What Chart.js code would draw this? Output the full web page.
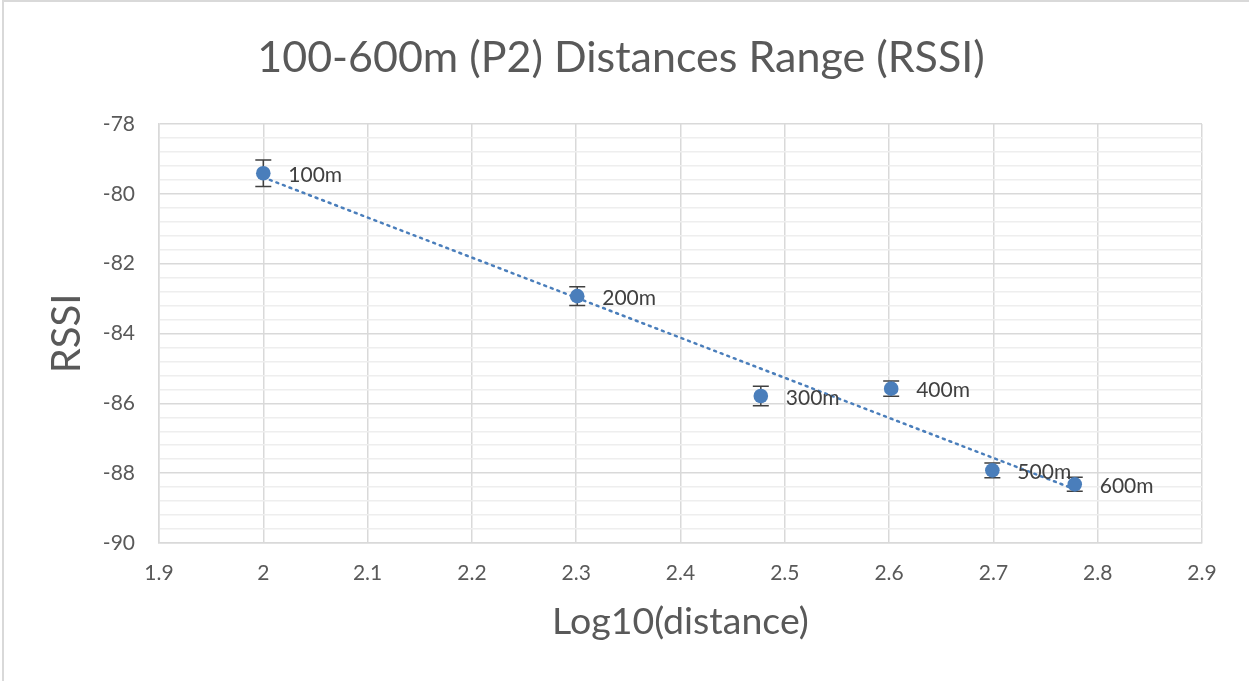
<!DOCTYPE html>
<html lang="en">
<head>
    <meta charset="UTF-8">
    <title>100-600m (P2) Distances Range (RSSI)</title>
    <script src="https://cdn.jsdelivr.net/npm/chart.js"></script>
    <style>
        html, body { margin: 0; padding: 0; background: #fff; }
        #wrap { width: 1249px; height: 681px; position: relative; }
    </style>
</head>
<body>
    <div id="wrap"><canvas id="chart" width="1249" height="681"></canvas></div>
    <script>
        // data
        const labels = ['100m', '200m', '300m', '400m', '500m', '600m'];
        const logDistance = [2, 2.301, 2.477, 2.602, 2.699, 2.778];
        const rssi = [-79.41, -82.93, -85.79, -85.58, -87.92, -88.32];
        const rssiErr = [0.38, 0.27, 0.28, 0.22, 0.21, 0.2];
        // dotted linear trendline ends
        const trendX = [2, 2.778];
        const trendY = [-79.53, -88.46];

        const blue = '#4a7ebb';
        const grey = '#595959';
        const gridCol = '#d9d9d9';
        const fontFam = 'Lato, "Open Sans", sans-serif';

        // error bars + point labels + outer frame
        const extras = {
            id: 'extras',
            afterDatasetsDraw(chart) {
                const ctx = chart.ctx;
                const xs = chart.scales.x, ys = chart.scales.y;
                ctx.save();
                ctx.strokeStyle = '#404040';
                ctx.lineWidth = 1.5;
                for (let i = 0; i < rssi.length; i++) {
                    const px = xs.getPixelForValue(logDistance[i]);
                    const top = ys.getPixelForValue(rssi[i] + rssiErr[i]);
                    const bot = ys.getPixelForValue(rssi[i] - rssiErr[i]);
                    ctx.beginPath();
                    ctx.moveTo(px, top); ctx.lineTo(px, bot);
                    ctx.moveTo(px - 8, top); ctx.lineTo(px + 8, top);
                    ctx.moveTo(px - 8, bot); ctx.lineTo(px + 8, bot);
                    ctx.stroke();
                }
                // points on top of the bars
                const meta = chart.getDatasetMeta(1);
                meta.data.forEach(p => {
                    ctx.beginPath();
                    ctx.fillStyle = blue;
                    ctx.arc(p.x, p.y, 7.3, 0, Math.PI * 2);
                    ctx.fill();
                });
                ctx.fillStyle = '#404040';
                ctx.font = '21px ' + fontFam;
                ctx.textBaseline = 'middle';
                ctx.textAlign = 'left';
                for (let i = 0; i < labels.length; i++) {
                    const px = xs.getPixelForValue(logDistance[i]);
                    const py = ys.getPixelForValue(rssi[i]);
                    ctx.fillText(labels[i], px + 25, py + 2);
                }
                ctx.strokeStyle = gridCol;
                ctx.lineWidth = 2;
                ctx.beginPath();
                ctx.moveTo(3, 681); ctx.lineTo(3, 1); ctx.lineTo(1249, 1);
                ctx.stroke();
                ctx.restore();
            }
        };

        new Chart(document.getElementById('chart'), {
            type: 'scatter',
            data: {
                datasets: [
                    {
                        type: 'line',
                        data: trendX.map((x, i) => ({ x: x, y: trendY[i] })),
                        borderColor: blue,
                        borderWidth: 2.5,
                        borderDash: [2, 5],
                        borderCapStyle: 'round',
                        pointRadius: 0,
                        fill: false
                    },
                    {
                        data: logDistance.map((x, i) => ({ x: x, y: rssi[i] })),
                        backgroundColor: 'rgba(0,0,0,0)',
                        borderColor: 'rgba(0,0,0,0)',
                        pointRadius: 7
                    }
                ]
            },
            options: {
                responsive: false,
                animation: false,
                layout: { padding: { left: 40, right: 47, top: 0, bottom: 0 } },
                plugins: {
                    legend: { display: false },
                    tooltip: { enabled: false },
                    title: {
                        display: true,
                        text: '100-600m (P2) Distances Range (RSSI)',
                        color: grey,
                        font: { family: fontFam, size: 43, weight: 'normal' },
                        padding: { top: 32, bottom: 40.4 }
                    }
                },
                scales: {
                    x: {
                        type: 'linear',
                        min: 1.9,
                        max: 2.9,
                        ticks: {
                            stepSize: 0.1,
                            autoSkip: false,
                            color: grey,
                            padding: 18,
                            font: { family: fontFam, size: 21 },
                            callback: v => String(Math.round(v * 10) / 10)
                        },
                        grid: { color: gridCol, lineWidth: 1.5, drawTicks: false },
                        border: { color: gridCol, width: 1.5 },
                        title: {
                            display: true,
                            text: 'Log10(distance)',
                            color: grey,
                            font: { family: fontFam, size: 37.5 },
                            padding: { top: 10, bottom: 36.5 }
                        },
                        afterFit: s => { s.height = 138; }
                    },
                    y: {
                        min: -90,
                        max: -78,
                        ticks: {
                            stepSize: 0.4,
                            autoSkip: false,
                            color: grey,
                            padding: 24,
                            font: { family: fontFam, size: 21 },
                            callback: v => {
                                const r = Math.round(v * 10) / 10;
                                return Math.abs(r % 2) < 1e-6 ? String(r) : '';
                            }
                        },
                        grid: {
                            drawTicks: false,
                            lineWidth: 1.5,
                            color: ctx => {
                                const r = Math.round(ctx.tick.value * 10) / 10;
                                return Math.abs(r % 2) < 1e-6 ? gridCol : '#eeeeee';
                            }
                        },
                        border: { color: gridCol, width: 1.5 },
                        title: {
                            display: true,
                            text: 'RSSI',
                            color: grey,
                            font: { family: fontFam, size: 40 },
                            padding: { top: 3 }
                        },
                        afterFit: s => { s.width = 119; }
                    }
                }
            },
            plugins: [extras]
        });
    </script>
</body>
</html>
